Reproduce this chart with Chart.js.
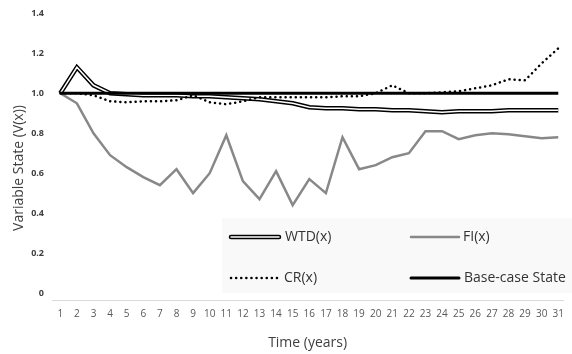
<!DOCTYPE html>
<html>
<head>
<meta charset="utf-8">
<script src="https://cdn.jsdelivr.net/npm/chart.js@4.4.0/dist/chart.umd.min.js"></script>
<style>
  html, body { margin: 0; padding: 0; background: #fff; }
  #wrap { width: 572px; height: 354px; }
</style>
</head>
<body>
<div id="wrap"><canvas id="chart"></canvas></div>
<script>
// x categories (years) and y tick labels
const years = [1, 2, 3, 4, 5, 6, 7, 8, 9, 10, 11, 12, 13, 14, 15, 16, 17, 18, 19, 20, 21, 22, 23, 24, 25, 26, 27, 28, 29, 30, 31];
const yTickValues = [0, 0.2, 0.4, 0.6, 0.8, 1.0, 1.2, 1.4];
const yTickLabels = ['0', '0.2', '0.4', '0.6', '0.8', '1.0', '1.2', '1.4'];
const seriesNames = ['WTD(x)', 'FI(x)', 'CR(x)', 'Base-case State'];
const yTitle = 'Variable State (V(x))';

// series values
const wtd = [1.0, 1.13, 1.04, 1.0, 0.995, 0.99, 0.99, 0.99, 0.985, 0.985, 0.98, 0.975, 0.97, 0.96, 0.95, 0.93,
             0.925, 0.925, 0.92, 0.92, 0.915, 0.915, 0.91, 0.905, 0.91, 0.91, 0.91, 0.915, 0.915, 0.915, 0.915];
const fi = [1.0, 0.95, 0.80, 0.69, 0.63, 0.58, 0.54, 0.62, 0.50, 0.60, 0.79, 0.56, 0.47, 0.61, 0.44, 0.57,
            0.50, 0.78, 0.62, 0.64, 0.68, 0.70, 0.81, 0.81, 0.77, 0.79, 0.80, 0.795, 0.785, 0.775, 0.78];
const cr = [1.0, 1.0, 0.99, 0.96, 0.955, 0.96, 0.96, 0.965, 0.99, 0.955, 0.945, 0.96, 0.98, 0.98, 0.98, 0.98,
            0.98, 0.985, 0.985, 1.0, 1.04, 1.0, 1.0, 1.005, 1.01, 1.025, 1.04, 1.07, 1.065, 1.15, 1.225];
const baseCase = [1, 1, 1, 1, 1, 1, 1, 1, 1, 1, 1, 1, 1, 1, 1, 1, 1, 1, 1, 1, 1, 1, 1, 1, 1, 1, 1, 1, 1, 1, 1];

const FONT = "'Open Sans', 'DejaVu Sans', sans-serif";
const toPoints = arr => arr.map((v, i) => ({ x: years[i], y: v }));

// legend drawn inside the plot + y title placed a bit lower, like the original
const insideLegend = {
    id: 'insideLegend',
    afterDraw(chart) {
        const ctx = chart.ctx;
        ctx.save();
        ctx.fillStyle = '#f9f9f9';
        ctx.fillRect(222, 218, 350, 75);

        ctx.lineCap = 'round';
        // WTD: double line
        ctx.strokeStyle = '#000';
        ctx.lineWidth = 4.5;
        ctx.beginPath(); ctx.moveTo(231, 237); ctx.lineTo(279, 237); ctx.stroke();
        ctx.strokeStyle = '#fff';
        ctx.lineWidth = 1.5;
        ctx.beginPath(); ctx.moveTo(231, 237); ctx.lineTo(279, 237); ctx.stroke();
        // FI
        ctx.strokeStyle = '#888';
        ctx.lineWidth = 2.5;
        ctx.beginPath(); ctx.moveTo(411, 237); ctx.lineTo(459, 237); ctx.stroke();
        // CR dotted
        ctx.strokeStyle = '#000';
        ctx.setLineDash([0.1, 5]);
        ctx.lineWidth = 2.5;
        ctx.beginPath(); ctx.moveTo(231, 278); ctx.lineTo(280, 278); ctx.stroke();
        ctx.setLineDash([]);
        // Base-case
        ctx.lineWidth = 3;
        ctx.beginPath(); ctx.moveTo(411, 278); ctx.lineTo(459, 278); ctx.stroke();

        ctx.fillStyle = '#333';
        ctx.font = '14px ' + FONT;
        ctx.textBaseline = 'middle';
        ctx.fillText(seriesNames[0], 285, 237);
        ctx.fillText(seriesNames[1], 463, 237);
        ctx.fillText(seriesNames[2], 284, 278);
        ctx.fillText(seriesNames[3], 464, 278);

        // y axis title
        ctx.translate(19, 168);
        ctx.rotate(-Math.PI / 2);
        ctx.textAlign = 'center';
        ctx.fillStyle = '#404040';
        ctx.fillText(yTitle, 0, 0);
        ctx.restore();
    }
};

const ctx = document.getElementById('chart').getContext('2d');
new Chart(ctx, {
    type: 'line',
    data: {
        datasets: [
            {
                label: seriesNames[3], data: toPoints(baseCase), order: 0,
                borderColor: '#000', borderWidth: 3
            },
            {
                label: seriesNames[2], data: toPoints(cr), order: 1,
                borderColor: '#000', borderWidth: 2.5, borderDash: [0.1, 5], borderCapStyle: 'round'
            },
            {
                label: 'wtd-inner', data: toPoints(wtd), order: 2,
                borderColor: '#fff', borderWidth: 1.5
            },
            {
                label: seriesNames[0], data: toPoints(wtd), order: 3,
                borderColor: '#000', borderWidth: 4.5
            },
            {
                label: seriesNames[1], data: toPoints(fi), order: 4,
                borderColor: '#888', borderWidth: 2.5
            }
        ]
    },
    options: {
        responsive: true,
        maintainAspectRatio: false,
        animation: false,
        elements: { point: { radius: 0 }, line: { tension: 0 } },
        layout: { padding: { top: 12, right: 0, left: 0, bottom: 0 } },
        plugins: { legend: { display: false }, tooltip: { enabled: false } },
        scales: {
            x: {
                type: 'linear',
                min: 0.5,
                max: 31.3,
                afterBuildTicks: s => { s.ticks = years.map(v => ({ value: v })); },
                afterFit: s => { s.height = 54; },
                grid: { display: false, drawTicks: false },
                border: { display: true, color: '#d9d9d9', width: 1 },
                ticks: {
                    autoSkip: false, maxRotation: 0, padding: 8,
                    color: '#595959', font: { family: FONT, size: 10 }
                },
                title: {
                    display: true, text: 'Time (years)', color: '#404040',
                    font: { family: FONT, size: 14 }, padding: { top: 0, bottom: 3 }
                }
            },
            y: {
                min: -0.035,
                max: 1.4,
                afterBuildTicks: s => { s.ticks = yTickValues.map(v => ({ value: v })); },
                afterFit: s => { s.width = 52; },
                grid: { display: false, drawTicks: false },
                border: { display: false },
                ticks: {
                    padding: 8, color: '#404040',
                    font: { family: FONT, size: 9, weight: 'bold' },
                    callback: (v) => yTickLabels[yTickValues.indexOf(v)]
                }
            }
        }
    },
    plugins: [insideLegend]
});
</script>
</body>
</html>
